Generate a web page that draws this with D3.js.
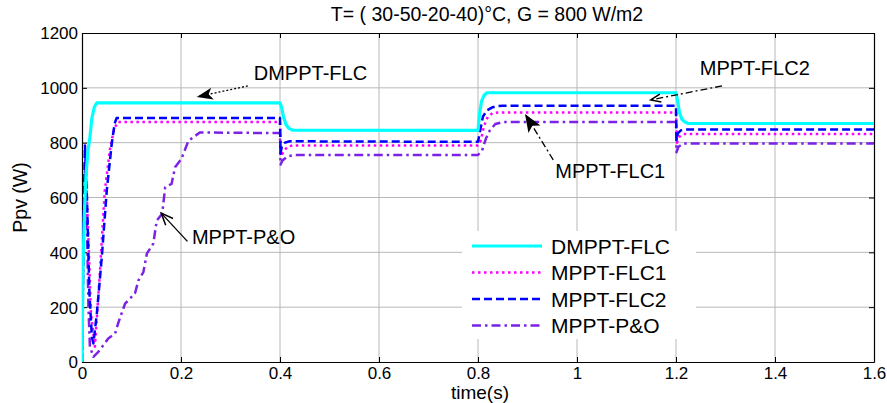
<!DOCTYPE html>
<html><head><meta charset="utf-8">
<script src="https://cdn.jsdelivr.net/npm/d3@7"></script>
<style>
body{margin:0;background:#fff;}
svg{display:block;}
text{font-family:"Liberation Sans",Arial,sans-serif;}
</style></head>
<body><div id="chart"></div>
<script>
const title = "T= ( 30-50-20-40)°C, G = 800 W/m2";
const xLabel = "time(s)";
const yLabel = "Ppv (W)";
const xTicks = [0,0.2,0.4,0.6,0.8,1,1.2,1.4,1.6];
const yTicks = [0,200,400,600,800,1000,1200];
const seriesNames = ["DMPPT-FLC","MPPT-FLC1","MPPT-FLC2","MPPT-P&O"];

const tDMPPT = [0,0.002,0.005,0.008,0.012,0.016,0.02,0.025,0.03,0.4,0.403,0.407,0.412,0.418,0.425,0.8,0.803,0.807,0.812,0.818,1.2,1.203,1.207,1.212,1.218,1.225,1.6];
const pDMPPT = [0,350,550,680,770,820,890,930,945,945,930,895,866,852,846,845,905,950,972,982,982,955,910,885,875,870,870];

const tFLC1 = [0,0.003,0.007,0.012,0.018,0.026,0.036,0.046,0.057,0.065,0.072,0.4,0.402,0.408,0.415,0.425,0.8,0.806,0.812,0.82,0.83,0.84,1.2,1.202,1.207,1.215,1.6];
const pFLC1 = [0,450,740,500,180,56,322,625,783,850,875,875,750,770,785,790,790,810,860,895,908,910,910,800,822,832,832];

const tFLC2 = [0,0.003,0.006,0.01,0.015,0.02,0.023,0.03,0.04,0.05,0.06,0.066,0.07,0.4,0.401,0.404,0.41,0.42,0.8,0.805,0.81,0.818,0.828,0.838,0.85,1.2,1.201,1.204,1.21,1.22,1.6];
const pFLC2 = [0,500,790,600,250,90,68,177,383,625,795,870,890,890,760,790,800,805,803,850,895,918,928,933,935,935,810,835,845,848,848];

const tPO = [0,0.003,0.006,0.01,0.013,0.016,0.023,0.033,0.046,0.053,0.067,0.073,0.087,0.097,0.107,0.114,0.124,0.131,0.144,0.151,0.162,0.168,0.181,0.188,0.201,0.215,0.238,0.4,0.401,0.405,0.415,0.43,0.8,0.808,0.816,0.824,0.835,0.85,1.2,1.201,1.205,1.215,1.6];
const pPO = [0,400,720,500,200,56,19,37,68,86,104,141,213,232,250,298,328,395,432,516,541,637,650,710,741,807,837,835,720,735,750,755,755,770,815,845,868,875,875,765,785,797,797];

// annotations: label, text anchor (t,P), arrow tail (t,P), arrow tip (t,P)
const annLabels = ["DMPPT-FLC","MPPT-FLC2","MPPT-FLC1","MPPT-P&O"];
const annText = [[0.347,1030],[1.248,1045],[0.956,670],[0.222,430]];
const annTail = [[0.335,1007],[1.293,1007],[0.952,737],[0.213,440]];
const annTip  = [[0.232,967],[1.149,956],[0.895,905],[0.160,543]];

const W = 887, H = 403;
const m = {l:82, r:13, t:33, b:41};
const svg = d3.select("#chart").append("svg").attr("width",W).attr("height",H);
const x = d3.scaleLinear().domain([0,1.6]).range([m.l, W-m.r]);
const y = d3.scaleLinear().domain([0,1200]).range([H-m.b, m.t]);

// grid
const g = svg.append("g");
g.selectAll(".gx").data(xTicks.slice(1,-1)).join("line")
 .attr("x1",d=>x(d)).attr("x2",d=>x(d)).attr("y1",y(0)).attr("y2",y(1200))
 .attr("stroke","#b8b8b8").attr("stroke-width",1);
g.selectAll(".gy").data(yTicks.slice(1,-1)).join("line")
 .attr("y1",d=>y(d)).attr("y2",d=>y(d)).attr("x1",x(0)).attr("x2",x(1.6))
 .attr("stroke","#b8b8b8").attr("stroke-width",1);

// axes
const fmtX = d=>d3.format("~g")(d);
const axB = svg.append("g").attr("transform",`translate(0,${y(0)})`)
 .call(d3.axisBottom(x).tickValues(xTicks).tickFormat(fmtX).tickSizeInner(-5).tickSizeOuter(0).tickPadding(4));
const axT = svg.append("g").attr("transform",`translate(0,${y(1200)})`)
 .call(d3.axisTop(x).tickValues(xTicks).tickFormat("").tickSizeInner(-5).tickSizeOuter(0));
const axL = svg.append("g").attr("transform",`translate(${x(0)},0)`)
 .call(d3.axisLeft(y).tickValues(yTicks).tickFormat(d3.format("d")).tickSizeInner(-5).tickSizeOuter(0).tickPadding(4));
const axR = svg.append("g").attr("transform",`translate(${x(1.6)},0)`)
 .call(d3.axisRight(y).tickValues(yTicks).tickFormat("").tickSizeInner(-5).tickSizeOuter(0));
[axB,axT,axL,axR].forEach(a=>{
  a.select(".domain").attr("stroke","#000").attr("stroke-width",1.2);
  a.selectAll(".tick line").attr("stroke","#000");
  a.selectAll("text").attr("font-family","Liberation Sans, Arial, sans-serif").attr("font-size",17).attr("fill","#000");
});
axL.selectAll("text").attr("dy","0.35em");
axB.selectAll("text").attr("dy","0.75em");

// lines
const series = [
  {t:tDMPPT,p:pDMPPT,color:"#00ffff",w:3.2,dash:null},
  {t:tFLC1,p:pFLC1,color:"#ff00ff",w:2.5,dash:"2.5,3.5"},
  {t:tFLC2,p:pFLC2,color:"#0000ff",w:2.5,dash:"8,4"},
  {t:tPO,p:pPO,color:"#7b22e6",w:2.5,dash:"9,4,2.5,4"}
];
const line = d3.line().x(d=>x(d[0])).y(d=>y(d[1]));
svg.append("clipPath").attr("id","cp").append("rect")
 .attr("x",x(0)).attr("y",y(1200)).attr("width",x(1.6)-x(0)).attr("height",y(0)-y(1200));
const lg = svg.append("g").attr("clip-path","url(#cp)");
[3,1,2,0].forEach(i=>{
  const s = series[i];
  lg.append("path").datum(s.t.map((t,j)=>[t,s.p[j]]))
   .attr("d",line).attr("fill","none").attr("stroke",s.color).attr("stroke-width",s.w)
   .attr("stroke-dasharray",s.dash).attr("stroke-linejoin","round");
});

// title & labels
svg.append("text").attr("x",487).attr("y",21)
 .attr("text-anchor","middle").attr("font-size",19.5).text(title);
svg.append("text").attr("x",480).attr("y",399)
 .attr("text-anchor","middle").attr("font-size",19).text(xLabel);
svg.append("text").attr("transform",`translate(27,${(y(0)+y(1200))/2}) rotate(-90)`)
 .attr("text-anchor","middle").attr("font-size",19.5).text(yLabel);

// legend
const leg = svg.append("g");
leg.append("rect").attr("x",462).attr("y",231).attr("width",234).attr("height",108).attr("fill","#fff");
series.forEach((s,i)=>{
  const yy = 246 + i*26.5;
  leg.append("line").attr("x1",472).attr("x2",542).attr("y1",yy).attr("y2",yy)
   .attr("stroke",s.color).attr("stroke-width",s.w).attr("stroke-dasharray",s.dash);
  leg.append("text").attr("x",551).attr("y",yy).attr("dy","0.36em")
   .attr("font-size",21).text(seriesNames[i]);
});

// annotations
const ann = svg.append("g");
const styles = [
  {dash:"2,2",filled:true,len:16,wid:6},
  {dash:"7,3,2,3",filled:false,len:10,wid:4},
  {dash:"7,3,2,3",filled:true,len:18,wid:7},
  {dash:null,filled:false,len:12,wid:5}
];
annLabels.forEach((lab,i)=>{
  const [tx,ty]=[x(annText[i][0]),y(annText[i][1])];
  const [ax,ay]=[x(annTail[i][0]),y(annTail[i][1])];
  const [bx,by]=[x(annTip[i][0]),y(annTip[i][1])];
  const st = styles[i];
  ann.append("line").attr("x1",ax).attr("y1",ay).attr("x2",bx).attr("y2",by)
   .attr("stroke","#000").attr("stroke-width",1.3).attr("stroke-dasharray",st.dash);
  const ang = Math.atan2(by-ay,bx-ax);
  const ux=Math.cos(ang), uy=Math.sin(ang);
  const px=-uy, py=ux;
  const bxb=bx-ux*st.len, byb=by-uy*st.len;
  const p1=[bxb+px*st.wid, byb+py*st.wid], p2=[bxb-px*st.wid, byb-py*st.wid];
  if(st.filled){
    ann.append("path").attr("d",`M${bx},${by}L${p1[0]},${p1[1]}L${bxb+ux*4},${byb+uy*4}L${p2[0]},${p2[1]}Z`).attr("fill","#000");
  } else {
    ann.append("path").attr("d",`M${p1[0]},${p1[1]}L${bx},${by}L${p2[0]},${p2[1]}`).attr("fill","none").attr("stroke","#000").attr("stroke-width",1.5);
  }
  ann.append("text").attr("x",tx).attr("y",ty).attr("font-size",20).text(lab);
});
</script></body></html>
